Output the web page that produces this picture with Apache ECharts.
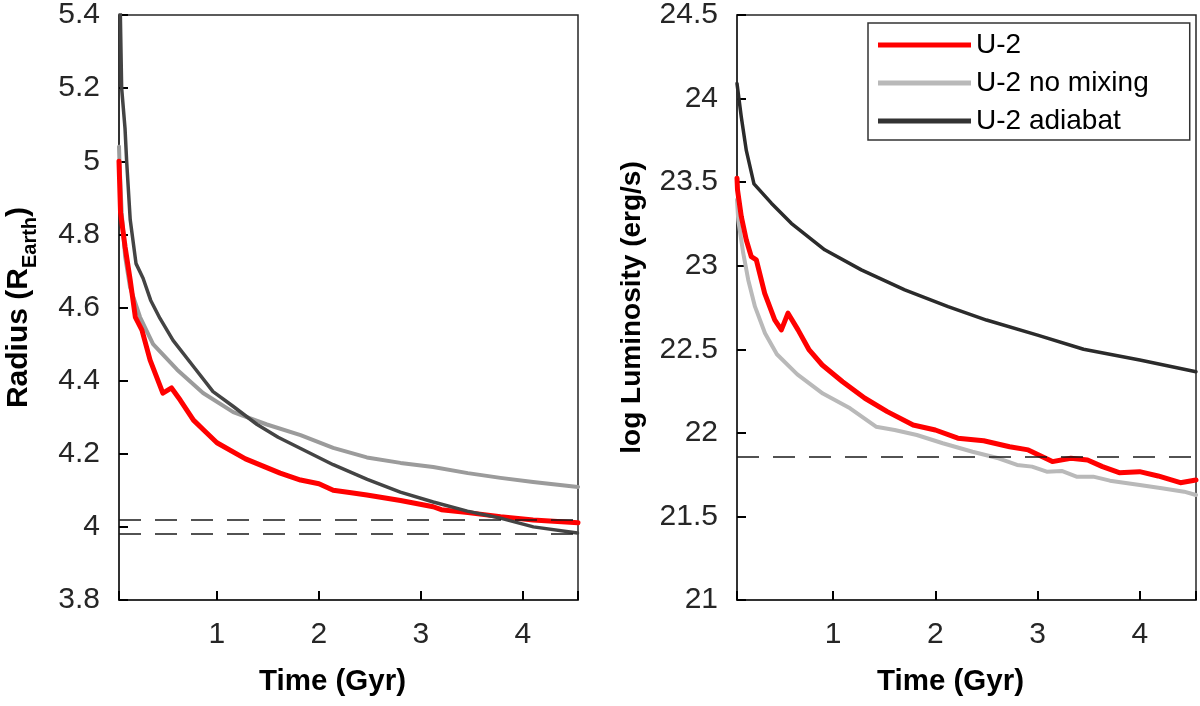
<!DOCTYPE html>
<html>
<head>
<meta charset="utf-8">
<script src="https://cdn.jsdelivr.net/npm/echarts@6/dist/echarts.min.js"></script>
<style>
  html, body { margin: 0; padding: 0; background: #fff; }
  #main { width: 1200px; height: 706px; }
</style>
</head>
<body>
<div id="main"></div>
<script>
// time in Gyr
var radiusNoMix = [
    [0.04, 5.04], [0.045, 4.995], [0.066, 4.86], [0.1, 4.74], [0.148, 4.656], [0.246, 4.574],
    [0.374, 4.50], [0.61, 4.43], [0.864, 4.366], [1.16, 4.314], [1.49, 4.28], [1.82, 4.251],
    [2.14, 4.216], [2.47, 4.19], [2.8, 4.175], [3.12, 4.164], [3.46, 4.147], [3.78, 4.134],
    [4.1, 4.123], [4.54, 4.109]
];
var radiusU2 = [
    [0.04, 5.0], [0.055, 4.86], [0.1, 4.765], [0.15, 4.675], [0.2, 4.574], [0.265, 4.538],
    [0.345, 4.456], [0.47, 4.366], [0.555, 4.38], [0.64, 4.347], [0.77, 4.292], [0.87, 4.265],
    [1.0, 4.23], [1.28, 4.186], [1.62, 4.147], [1.82, 4.128], [2.0, 4.118], [2.14, 4.10],
    [2.3, 4.094], [2.47, 4.087], [2.8, 4.072], [3.12, 4.055], [3.2, 4.047], [3.46, 4.039],
    [3.78, 4.028], [4.1, 4.019], [4.54, 4.011]
];
var radiusAdiabat = [
    [0.05, 5.45], [0.066, 5.2], [0.099, 5.09], [0.115, 5.0], [0.15, 4.84], [0.207, 4.72],
    [0.276, 4.68], [0.35, 4.62], [0.442, 4.57], [0.57, 4.51], [0.766, 4.44], [0.962, 4.37],
    [1.158, 4.33], [1.394, 4.28], [1.6, 4.245], [1.816, 4.215], [2.14, 4.17], [2.474, 4.13],
    [2.798, 4.095], [3.121, 4.068], [3.455, 4.043], [3.779, 4.024], [4.103, 4.0], [4.535, 3.983]
];
var radiusRef = [4.02, 3.98];

var lumNoMix = [
    [0.06, 23.394], [0.072, 23.274], [0.121, 23.075], [0.17, 22.915], [0.236, 22.755],
    [0.334, 22.596], [0.45, 22.47], [0.65, 22.35], [0.9, 22.235], [1.166, 22.147],
    [1.42, 22.037], [1.602, 22.017], [1.819, 21.987], [2.073, 21.938], [2.364, 21.887],
    [2.618, 21.848], [2.8, 21.808], [2.946, 21.798], [3.09, 21.768], [3.236, 21.772],
    [3.381, 21.738], [3.545, 21.738], [3.708, 21.714], [4.0, 21.688], [4.216, 21.668],
    [4.434, 21.648], [4.55, 21.628]
];
var lumU2 = [
    [0.06, 23.524], [0.065, 23.454], [0.102, 23.294], [0.151, 23.154], [0.2, 23.054],
    [0.249, 23.035], [0.331, 22.835], [0.429, 22.676], [0.494, 22.616], [0.559, 22.716],
    [0.657, 22.616], [0.766, 22.496], [0.894, 22.406], [1.093, 22.306], [1.311, 22.207],
    [1.53, 22.127], [1.783, 22.047], [2.0, 22.017], [2.22, 21.968], [2.473, 21.953],
    [2.727, 21.917], [2.909, 21.898], [3.145, 21.828], [3.326, 21.848], [3.489, 21.838],
    [3.635, 21.798], [3.799, 21.762], [3.998, 21.768], [4.179, 21.742], [4.397, 21.702],
    [4.55, 21.718]
];
var lumAdiabat = [
    [0.06, 24.09], [0.102, 23.89], [0.151, 23.69], [0.226, 23.49], [0.396, 23.374],
    [0.591, 23.254], [0.918, 23.095], [1.276, 22.975], [1.701, 22.855], [2.125, 22.755],
    [2.5, 22.675], [3.0, 22.585], [3.45, 22.5], [4.0, 22.436], [4.55, 22.366]
];
var lumRef = [21.86];

var timeTicks = [1, 2, 3, 4];
var names = ['U-2', 'U-2 no mixing', 'U-2 adiabat'];

var FONT = '"Liberation Sans", Arial, Helvetica, sans-serif';
var AXIS = '#262626';

function xAxisFor (idx, min, max) {
    return {
        type: 'value', gridIndex: idx, min: min, max: max,
        axisLine: { show: true, lineStyle: { color: AXIS, width: 1.5 } },
        axisTick: { show: true, inside: true, length: 9, lineStyle: { color: '#000', width: 2 } },
        axisLabel: { customValues: timeTicks, fontSize: 30, lineHeight: 30, color: AXIS, fontFamily: FONT, margin: 20 },
        splitLine: { show: false },
        name: 'Time (Gyr)', nameLocation: 'middle', nameGap: 67,
        nameTextStyle: { fontSize: 29.5, lineHeight: 30, fontWeight: 'bold', color: '#000', fontFamily: FONT, padding: [0, 32, 0, 0] }
    };
}

function yAxisFor (idx, min, max, step, name, gap, rich) {
    var ax = {
        type: 'value', gridIndex: idx, min: min, max: max, interval: step,
        axisLine: { show: true, lineStyle: { color: AXIS, width: 1.5 } },
        axisTick: { show: true, inside: true, length: 9, lineStyle: { color: '#000', width: 2 } },
        axisLabel: { fontSize: 30, color: AXIS, fontFamily: FONT, margin: 19 },
        splitLine: { show: false },
        name: name, nameLocation: 'middle', nameGap: gap,
        nameTextStyle: { fontSize: 28, lineHeight: 30, fontWeight: 'bold', color: '#000', fontFamily: FONT }
    };
    if (rich) ax.nameTextStyle.rich = rich;
    return ax;
}

function line (name, idx, data, color, width, refs) {
    var s = {
        name: name, type: 'line', xAxisIndex: idx, yAxisIndex: idx,
        data: data, showSymbol: false, symbol: 'none', smooth: false,
        lineStyle: { color: color, width: width, cap: 'round', join: 'round' },
        itemStyle: { color: color }
    };
    if (refs) {
        s.markLine = {
            silent: true, symbol: ['none', 'none'], label: { show: false },
            lineStyle: { type: [22, 14], color: '#1a1a1a', width: 1.5 },
            data: refs.map(function (v) { return { yAxis: v }; })
        };
    }
    return s;
}

var chart = echarts.init(document.getElementById('main'));
chart.setOption({
    animation: false,
    backgroundColor: '#fff',
    grid: [
        { left: 119, right: 622, top: 15, bottom: 106, show: true,
          borderColor: AXIS, borderWidth: 1.5, outerBoundsMode: 'none' },
        { left: 737, right: 4, top: 15, bottom: 106, show: true,
          borderColor: AXIS, borderWidth: 1.5, outerBoundsMode: 'none' }
    ],
    legend: {
        left: 868, top: 23, orient: 'vertical',
        padding: [8, 41, 5, 10], itemGap: 10,
        itemWidth: 93, itemHeight: 5,
        borderColor: '#333', borderWidth: 1.5, backgroundColor: '#fff',
        textStyle: { fontSize: 28, lineHeight: 28, color: '#000', fontFamily: FONT },
        data: [
            { name: names[0], icon: 'rect', itemStyle: { color: '#ff0000' } },
            { name: names[1], icon: 'rect', itemStyle: { color: '#b9b9b9' } },
            { name: names[2], icon: 'rect', itemStyle: { color: '#333333' } }
        ]
    },
    xAxis: [xAxisFor(0, 0.04, 4.54), xAxisFor(1, 0.06, 4.55)],
    yAxis: [
        yAxisFor(0, 3.8, 5.4, 0.2, '{b|Radius (R}{s|Earth}{b|)}', 84, {
            b: { fontSize: 30, lineHeight: 32, fontWeight: 'bold', fontFamily: FONT, color: '#000' },
            s: { fontSize: 20, lineHeight: 20, fontWeight: 'bold', fontFamily: FONT, color: '#000', padding: [22, 0, 0, 0] }
        }),
        yAxisFor(1, 21, 24.5, 0.5, 'log Luminosity (erg/s)', 90)
    ],
    series: [
        line(names[1], 0, radiusNoMix, '#9b9b9b', 4),
        line(names[0], 0, radiusU2, '#ff0000', 5, radiusRef),
        line(names[2], 0, radiusAdiabat, '#444444', 3.5),
        line(names[1], 1, lumNoMix, '#b9b9b9', 4),
        line(names[0], 1, lumU2, '#ff0000', 5, lumRef),
        line(names[2], 1, lumAdiabat, '#2b2b2b', 3.5)
    ]
});
</script>
</body>
</html>
